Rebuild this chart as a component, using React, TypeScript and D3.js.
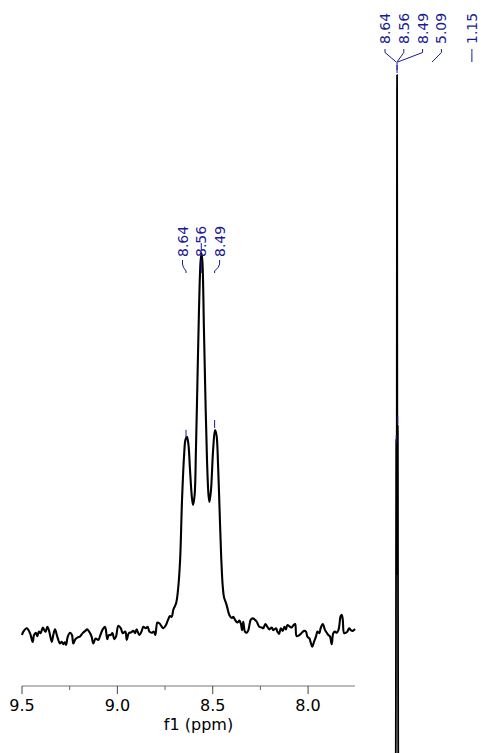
import React from "react";
import * as d3 from "d3";

// Inset spectrum (f1, ppm) and relative intensity
const insetPpm = [
  9.5, 9.493, 9.475, 9.458, 9.444, 9.437, 9.427, 9.42, 9.411, 9.402, 9.391, 9.383, 9.376, 9.367, 9.358,
  9.344, 9.336, 9.327, 9.315, 9.301, 9.292, 9.283, 9.275, 9.269, 9.26, 9.248, 9.238, 9.231, 9.22, 9.208,
  9.196, 9.182, 9.168, 9.158, 9.143, 9.135, 9.126, 9.114, 9.1, 9.091, 9.077, 9.065, 9.06, 9.053, 9.045,
  9.035, 9.026, 9.016, 9.007, 8.995, 8.982, 8.972, 8.958, 8.951, 8.94, 8.928, 8.916, 8.907, 8.899, 8.885,
  8.872, 8.864, 8.851, 8.841, 8.832, 8.82, 8.808, 8.801, 8.79, 8.78, 8.767, 8.759, 8.746, 8.736, 8.724,
  8.715, 8.707, 8.692, 8.682, 8.671, 8.661, 8.65, 8.643, 8.635, 8.627, 8.619, 8.609, 8.603, 8.595, 8.588,
  8.58, 8.572, 8.564, 8.559, 8.554, 8.546, 8.538, 8.53, 8.522, 8.517, 8.509, 8.498, 8.488, 8.48, 8.472,
  8.464, 8.456, 8.448, 8.441, 8.436, 8.427, 8.413, 8.4, 8.392, 8.383, 8.371, 8.36, 8.352, 8.346, 8.34,
  8.331, 8.322, 8.313, 8.301, 8.29, 8.278, 8.269, 8.256, 8.243, 8.235, 8.224, 8.214, 8.203, 8.191, 8.182,
  8.168, 8.161, 8.152, 8.143, 8.133, 8.124, 8.116, 8.109, 8.095, 8.086, 8.077, 8.068, 8.06, 8.046, 8.033,
  8.021, 8.011, 8.004, 7.993, 7.986, 7.978, 7.969, 7.958, 7.951, 7.941, 7.934, 7.923, 7.911, 7.902, 7.894,
  7.885, 7.876, 7.868, 7.859, 7.85, 7.841, 7.836, 7.829, 7.823, 7.818, 7.811, 7.802, 7.794, 7.785, 7.776,
  7.766, 7.754,
];
const insetIntensity = [
  -0.8, 0.1, 1.0, -0.3, -2.6, -0.8, -0.2, -1.1, 0.1, -0.3, 1.2, 0.5, 0.1, 1.4, 0.3,
  -2.6, -0.8, 0.7, -1.2, -3.0, -2.6, -3.2, -2.7, -3.4, -1.2, -0.2, -0.8, -3.0, -1.9, -1.4,
  -1.2, -0.3, 0.3, 0.7, -0.3, -1.2, -3.0, -1.7, -2.1, -1.1, 0.7, 1.4, 0.5, -1.9, -0.8,
  -0.8, -0.3, -1.9, -1.2, 1.6, 1.0, -0.3, 0.1, -2.1, -0.3, -0.1, 0.3, -0.3, 0.7, -0.8,
  0.3, 1.4, 1.0, 1.4, 0.1, -0.2, 0.1, -0.8, 2.5, 2.3, 1.4, 1.0, 1.8, 3.0, 4.2,
  4.0, 5.8, 7.6, 11.1, 19.0, 34.8, 46.7, 50.7, 51.5, 49.3, 42.7, 35.4, 33.5, 36.1, 48.0,
  66.5, 85.0, 97.6, 100, 97.6, 79.7, 61.2, 45.4, 36.1, 34.3, 37.5, 48.0, 53.3, 51.9, 44.1,
  32.2, 20.3, 12.4, 9.2, 8.4, 7.1, 4.5, 3.7, 4.0, 3.2, 2.5, 3.0, 2.1, 0.5, 2.7,
  0.1, -0.2, 0.5, 3.2, 3.6, 3.2, 2.7, 1.4, 1.2, 1.0, 2.1, 1.4, 0.7, 1.2, 0.5,
  1.0, 0.1, -0.5, 1.0, 0.3, 1.4, 0.7, 1.8, 1.4, 1.2, 1.8, 2.1, -1.1, -0.8, -0.2,
  0.3, 0.1, -1.2, -1.7, -2.8, -3.9, -2.6, -1.1, 0.1, -0.3, 1.0, 2.1, 0.5, -0.2, -0.8,
  -1.2, -3.2, -0.3, 0.1, -0.2, 0.5, 1.8, 4.2, 4.5, 3.2, -0.3, -0.2, 0.1, 1.0, 0.5,
  0.3, 0.8,
];

// Peak picks
const insetPeakPpm = [8.64, 8.56, 8.49];
const insetPeakLabels = ["8.64", "8.56", "8.49"];
const mainPeakPpm = [8.64, 8.56, 8.49, 5.09, 1.15];
const mainPeakLabels = ["8.64", "8.56", "8.49", "5.09", "1.15"];

// Axis ticks
const majorTicks = [9.5, 9.0, 8.5, 8.0];
const majorTickLabels = ["9.5", "9.0", "8.5", "8.0"];
const minorTicks = [9.25, 8.75, 8.25];
const axisTitle = "f1 (ppm)";

const W = 485;
const H = 753;
const BLUE = "#1b1b93";
const FONT = "'DejaVu Sans', Verdana, sans-serif";

function layoutLabels(xs: number[], start: number, gap: number) {
  const out: number[] = [];
  xs.forEach((x, i) => {
    if (i === 0) out.push(start);
    else out.push(Math.max(x, out[i - 1] + gap));
  });
  return out;
}

export default function App() {
  // inset scales
  const x = d3.scaleLinear().domain([9.5, 7.754]).range([22, 355]);
  const y = d3.scaleLinear().domain([0, 100]).range([632, 253]);
  // main spectrum scales (mostly outside the view)
  const mx = d3.scaleLinear().domain([10, 0]).range([382.5, 483.5]);
  const my = d3.scaleLinear().domain([0, 100]).range([826, 75]);

  const data = insetPpm.map((p, i) => [p, insetIntensity[i]] as [number, number]);
  const insetLine = d3
    .line<[number, number]>()
    .x((d) => x(d[0]))
    .y((d) => y(d[1]))
    .curve(d3.curveCatmullRom.alpha(0.5));
  const mainLine = d3
    .line<[number, number]>()
    .x((d) => mx(d[0]))
    .y((d) => my(d[1]))
    .curve(d3.curveCatmullRom.alpha(0.5));

  const intensityAt = (p: number) => {
    let best = 0;
    let bd = Infinity;
    data.forEach((d) => {
      const dd = Math.abs(d[0] - p);
      if (dd < bd) {
        bd = dd;
        best = d[1];
      }
    });
    return best;
  };

  const insetLabelX = layoutLabels(insetPeakPpm.map((p) => x(p)), 182.5, 18.3);
  const mainLabelX = layoutLabels(mainPeakPpm.map((p) => mx(p)), 385, 18.8);

  const axisY = 686;

  return (
    <svg
      width={W}
      height={H}
      style={{ position: "absolute", left: 0, top: 0, background: "#fff" }}
      fontFamily={FONT}
    >
      <rect x={0} y={0} width={W} height={H} fill="#fff" />

      {/* main spectrum */}
      <path d={mainLine(data) || ""} fill="none" stroke="#000" strokeWidth={1.8} strokeLinejoin="round" />
      {mainPeakPpm.map((p, i) => {
        const lx = mainLabelX[i];
        const px = mx(p);
        return (
          <g key={"m" + i}>
            <text
              transform={`translate(${lx},44) rotate(-90)`}
              fontSize={14}
              fill={BLUE}
              dominantBaseline="central"
            >
              {mainPeakLabels[i]}
            </text>
            <path
              d={`M${lx},49 L${lx},52.5 L${px},62`}
              fill="none"
              stroke={BLUE}
              strokeWidth={1}
            />
          </g>
        );
      })}
      {mainPeakPpm.slice(0, 3).map((p, i) => {
        const top = my(intensityAt(p));
        return (
          <line
            key={"mm" + i}
            x1={mx(p)}
            x2={mx(p)}
            y1={top - 10}
            y2={top - 2}
            stroke={BLUE}
            strokeWidth={1}
          />
        );
      })}
      <line x1={mx(8.56)} x2={mx(8.56)} y1={62} y2={70} stroke={BLUE} strokeWidth={1} />

      {/* inset spectrum */}
      <path d={insetLine(data) || ""} fill="none" stroke="#000" strokeWidth={2.1} strokeLinejoin="round" />
      {insetPeakPpm.map((p, i) => {
        const lx = insetLabelX[i];
        const px = x(p);
        const top = y(intensityAt(p));
        return (
          <g key={"i" + i}>
            <text
              transform={`translate(${lx},257) rotate(-90)`}
              fontSize={14}
              fill={BLUE}
              dominantBaseline="central"
            >
              {insetPeakLabels[i]}
            </text>
            <path
              d={`M${lx},260 L${lx},264 Q${lx},267 ${px},271 L${px},273`}
              fill="none"
              stroke={BLUE}
              strokeWidth={1}
            />
            <line x1={px} x2={px} y1={top - 10} y2={top - 2} stroke={BLUE} strokeWidth={1} />
          </g>
        );
      })}

      {/* axis */}
      <line x1={x(9.5)} x2={x(7.754)} y1={axisY} y2={axisY} stroke="#777" strokeWidth={1} />
      {majorTicks.map((t, i) => (
        <g key={"t" + i}>
          <line x1={x(t)} x2={x(t)} y1={axisY} y2={axisY + 8} stroke="#444" strokeWidth={1} />
          <text x={x(t)} y={711} fontSize={16} textAnchor="middle" fill="#000">
            {majorTickLabels[i]}
          </text>
        </g>
      ))}
      {minorTicks.map((t, i) => (
        <line key={"n" + i} x1={x(t)} x2={x(t)} y1={axisY} y2={axisY + 4} stroke="#666" strokeWidth={1} />
      ))}
      <text x={(x(9.5) + x(7.754)) / 2 + 10} y={730} fontSize={16} textAnchor="middle" fill="#000">
        {axisTitle}
      </text>
    </svg>
  );
}
